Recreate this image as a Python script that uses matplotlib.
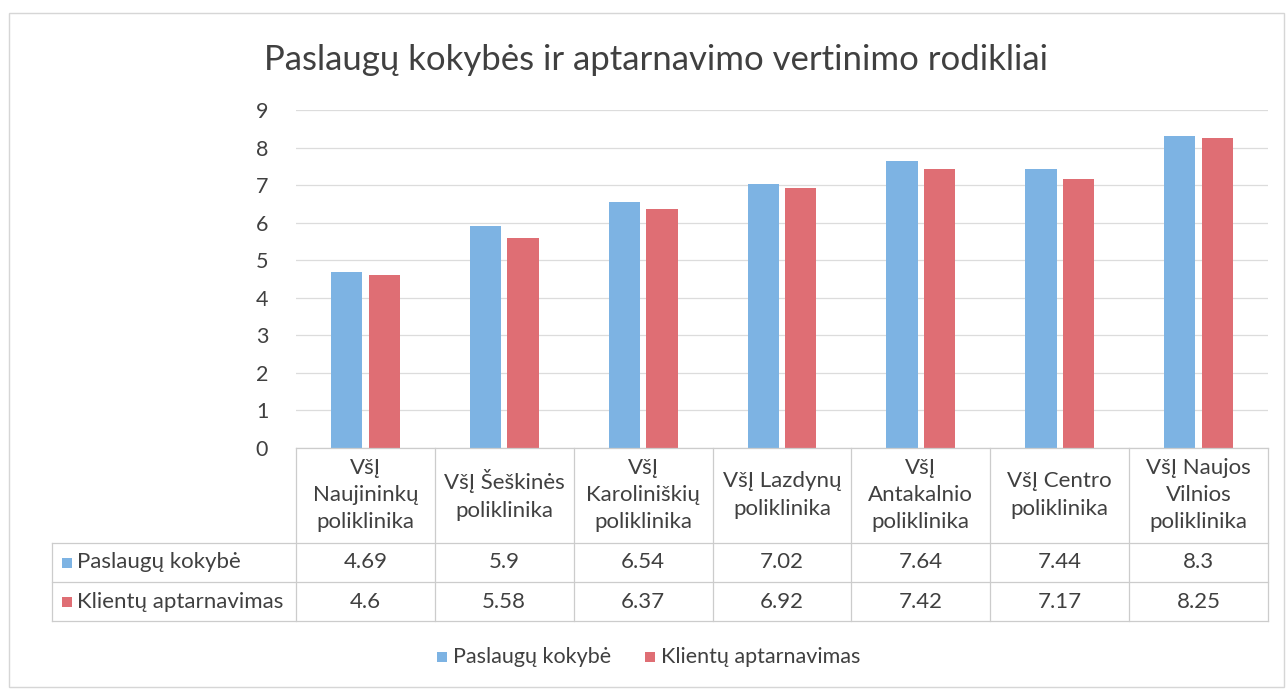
import matplotlib
matplotlib.use("Agg")
import matplotlib.pyplot as plt
from matplotlib.patches import Rectangle
from matplotlib.lines import Line2D

plt.rcParams['font.family'] = ['Lato', 'DejaVu Sans']

title = "Paslaugų kokybės ir aptarnavimo vertinimo rodikliai"
categories = ["VšĮ\nNaujininkų\npoliklinika", "VšĮ Šeškinės\npoliklinika",
              "VšĮ\nKaroliniškių\npoliklinika", "VšĮ Lazdynų\npoliklinika",
              "VšĮ\nAntakalnio\npoliklinika", "VšĮ Centro\npoliklinika",
              "VšĮ Naujos\nVilnios\npoliklinika"]
series_names = ["Paslaugų kokybė", "Klientų aptarnavimas"]
kokybe = [4.69, 5.9, 6.54, 7.02, 7.64, 7.44, 8.3]
aptarnavimas = [4.6, 5.58, 6.37, 6.92, 7.42, 7.17, 8.25]
kokybe_labels = ["4.69", "5.9", "6.54", "7.02", "7.64", "7.44", "8.3"]
aptarnavimas_labels = ["4.6", "5.58", "6.37", "6.92", "7.42", "7.17", "8.25"]
yticks = [0, 1, 2, 3, 4, 5, 6, 7, 8, 9]

W, H = 1288, 690
fig = plt.figure(figsize=(W / 100, H / 100), dpi=100)

def fx(px):
    return px / W

def fy(py):
    return 1 - py / H

blue = "#7db3e3"
red = "#df6e74"
txt = "#404040"
grid = "#dcdcdc"

ax_l, ax_r, ax_t, ax_b = 296, 1268, 110, 448
ax = fig.add_axes([fx(ax_l), fy(ax_b), fx(ax_r) - fx(ax_l), fy(ax_t) - fy(ax_b)])
n = len(categories)
xs = list(range(n))
bw = 0.225
off = 0.135
ax.bar([x - off for x in xs], kokybe, width=bw, color=blue, zorder=3)
ax.bar([x + off for x in xs], aptarnavimas, width=bw, color=red, zorder=3)
ax.set_xlim(-0.5, n - 0.5)
ax.set_ylim(0, 9)
ax.set_yticks(yticks)
ax.set_yticklabels([str(t) for t in yticks], fontsize=15.5, color=txt)
ax.tick_params(axis='y', length=0, pad=20)
ax.set_xticks([])
ax.yaxis.grid(True, color=grid, linewidth=0.9, zorder=0)
for s in ax.spines.values():
    s.set_visible(False)

# Figure border
fig.add_artist(Rectangle((fx(9), fy(687)), fx(1284) - fx(9), fy(13) - fy(687),
                         transform=fig.transFigure, fill=False,
                         edgecolor="#d6d6d6", linewidth=1.0))

# Title
fig.text(fx(656), fy(60), title, ha='center', va='center', fontsize=25, color=txt)

# Data table
colw = (ax_r - ax_l) / n
row_tops = [448, 543, 582, 621]
lc = "#cccccc"
def hline(y, x0, x1):
    fig.add_artist(Line2D([fx(x0), fx(x1)], [fy(y), fy(y)], transform=fig.transFigure,
                          color=lc, linewidth=0.9))
def vline(x, y0, y1):
    fig.add_artist(Line2D([fx(x), fx(x)], [fy(y0), fy(y1)], transform=fig.transFigure,
                          color=lc, linewidth=0.9))

hline(448, ax_l, ax_r)
for y in row_tops[1:]:
    hline(y, 52, ax_r)
for i in range(n + 1):
    vline(ax_l + i * colw, 448, 621)
vline(52, 543, 621)

for i, cat in enumerate(categories):
    cx = ax_l + (i + 0.5) * colw
    fig.text(fx(cx), fy(495), cat, ha='center', va='center', fontsize=16,
             color=txt, linespacing=1.45)
    fig.text(fx(cx), fy(562.5), kokybe_labels[i], ha='center', va='center',
             fontsize=16, color=txt)
    fig.text(fx(cx), fy(601.5), aptarnavimas_labels[i], ha='center', va='center',
             fontsize=16, color=txt)

for j, (name, col) in enumerate(zip(series_names, [blue, red])):
    cy = 562.5 + 39 * j
    fig.add_artist(Rectangle((fx(62), fy(cy + 5)), fx(10), fy(cy - 5) - fy(cy + 5),
                             transform=fig.transFigure, facecolor=col, edgecolor='none'))
    fig.text(fx(77), fy(cy), name, ha='left', va='center', fontsize=16, color=txt)

# Legend
leg_items = [(437, blue, series_names[0]), (645, red, series_names[1])]
for x0, col, name in leg_items:
    fig.add_artist(Rectangle((fx(x0), fy(662)), fx(10), fy(652) - fy(662),
                             transform=fig.transFigure, facecolor=col, edgecolor='none'))
    fig.text(fx(x0 + 16), fy(657), name, ha='left', va='center', fontsize=15.5, color=txt)

fig.savefig("out.png", dpi=100, facecolor="white")
